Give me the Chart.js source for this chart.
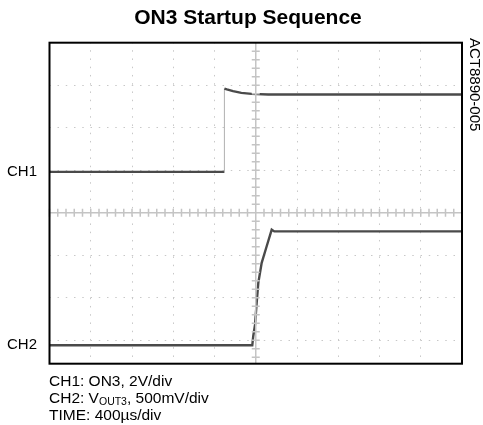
<!DOCTYPE html>
<html>
<head>
<meta charset="utf-8">
<script src="https://cdn.jsdelivr.net/npm/chart.js@4.4.0/dist/chart.umd.min.js"></script>
<style>
    html, body { margin: 0; padding: 0; background: #fff; }
    #wrap { position: relative; width: 483px; height: 425px; }
</style>
</head>
<body>
<div id="wrap"><canvas id="scopeChart" width="483" height="425"></canvas></div>
<script>
// Scope capture, values in screen divisions (time: 400us/div)
const ch1Time = [0, 4.24, 4.24, 4.3, 4.45, 4.65, 4.9, 5.3, 6.0, 10];
const ch1Div = [0.96, 0.96, 2.92, 2.90, 2.86, 2.82, 2.795, 2.78, 2.78, 2.78];

const ch2Time = [0, 4.916, 4.94, 4.982, 5.02, 5.062, 5.144, 5.265, 5.387, 5.45, 10];
const ch2Div = [-3.12, -3.12, -2.90, -2.64, -2.15, -1.65, -1.18, -0.79, -0.40, -0.44, -0.44];

const channelLabels = ["CH1", "CH2"];
const channelLevels = [0.96, -3.12];
const xDivisions = [0, 1, 2, 3, 4, 5, 6, 7, 8, 9, 10];
const yDivisions = [-3, -2, -1, 0, 1, 2, 3, 4];

const FONT = "Arial, 'Liberation Sans', sans-serif";

function toPoints(xs, ys) {
    return xs.map((x, i) => ({ x: x, y: ys[i] }));
}

// Draws frame, center graticule and all the text around the plot
const scopeDecor = {
    id: "scopeDecor",
    afterDatasetsDraw(chart) {
        const ctx = chart.ctx;
        const area = chart.chartArea;
        const xs = chart.scales.x;
        const ys = chart.scales.y;
        const cx = xs.getPixelForValue(5);
        const cy = ys.getPixelForValue(0);

        ctx.save();
        // center cross with minor ticks
        ctx.strokeStyle = "#c4c4c4";
        ctx.lineWidth = 1.5;
        ctx.beginPath();
        ctx.moveTo(area.left, cy);
        ctx.lineTo(area.right, cy);
        ctx.moveTo(cx, area.top);
        ctx.lineTo(cx, area.bottom);
        for (let v = 0; v <= 10; v += 0.2) {
            const px = xs.getPixelForValue(v);
            ctx.moveTo(px, cy - 4);
            ctx.lineTo(px, cy + 4);
        }
        for (let v = -3.6; v <= 4; v += 0.2) {
            const py = ys.getPixelForValue(v);
            if (py < area.top || py > area.bottom) continue;
            ctx.moveTo(cx - 4, py);
            ctx.lineTo(cx + 4, py);
        }
        ctx.stroke();
        ctx.restore();
    },
    afterDraw(chart) {
        const ctx = chart.ctx;
        const area = chart.chartArea;
        const ys = chart.scales.y;

        ctx.save();
        // frame
        ctx.strokeStyle = "#000";
        ctx.lineWidth = 2;
        ctx.strokeRect(area.left, area.top, area.right - area.left, area.bottom - area.top);

        // title
        ctx.fillStyle = "#000";
        ctx.textAlign = "center";
        ctx.textBaseline = "middle";
        ctx.font = "bold 21px " + FONT;
        ctx.fillText("ON3 Startup Sequence", 248, 18);

        // channel markers
        ctx.font = "15px " + FONT;
        ctx.textAlign = "left";
        channelLabels.forEach((lab, i) => {
            ctx.fillText(lab, 7, ys.getPixelForValue(channelLevels[i]));
        });

        // figure id, rotated
        ctx.save();
        ctx.translate(467, 38);
        ctx.rotate(Math.PI / 2);
        ctx.textAlign = "left";
        ctx.textBaseline = "bottom";
        ctx.font = "15px " + FONT;
        ctx.fillText("ACT8890-005", 0, 0);
        ctx.restore();

        // settings text
        ctx.textAlign = "left";
        ctx.textBaseline = "middle";
        ctx.font = "15.5px " + FONT;
        ctx.fillText("CH1: ON3, 2V/div", 49, 382);
        let x = 49;
        ctx.fillText("CH2: V", x, 399);
        x += ctx.measureText("CH2: V").width;
        ctx.font = "10.5px " + FONT;
        ctx.fillText("OUT3", x, 402);
        x += ctx.measureText("OUT3").width;
        ctx.font = "15.5px " + FONT;
        ctx.fillText(", 500mV/div", x, 399);
        ctx.fillText("TIME: 400\u00b5s/div", 49, 416);
        ctx.restore();
    }
};

function renderChart() {
    const ctx = document.getElementById("scopeChart").getContext("2d");
    new Chart(ctx, {
        type: "line",
        data: {
            datasets: [
                {
                    label: "CH1",
                    data: toPoints(ch1Time, ch1Div),
                    borderColor: "#4a4a4a",
                    borderWidth: 2.4,
                    pointRadius: 0,
                    tension: 0,
                    segment: {
                        borderColor: c => (c.p0DataIndex === 1 ? "#b0b0b0" : undefined),
                        borderWidth: c => (c.p0DataIndex === 1 ? 1 : undefined),
                    },
                },
                {
                    label: "CH2",
                    data: toPoints(ch2Time, ch2Div),
                    borderColor: "#4a4a4a",
                    borderWidth: 2.4,
                    pointRadius: 0,
                    tension: 0,
                },
            ],
        },
        options: {
            responsive: false,
            animation: false,
            layout: {
                padding: { left: 49.5, top: 42.7, right: 21, bottom: 61.3 },
            },
            plugins: {
                legend: { display: false },
                title: { display: false },
                tooltip: { enabled: false },
            },
            scales: {
                x: {
                    type: "linear",
                    min: 0,
                    max: 10,
                    afterBuildTicks: s => { s.ticks = xDivisions.map(v => ({ value: v })); },
                    ticks: { display: false },
                    border: { display: false, dash: [1.5, 6.75], dashOffset: 0.75 },
                    grid: { color: "#c8c8c8", lineWidth: 1, drawTicks: false },
                },
                y: {
                    type: "linear",
                    min: -3.553,
                    max: 4,
                    afterBuildTicks: s => { s.ticks = yDivisions.map(v => ({ value: v })); },
                    ticks: { display: false },
                    border: { display: false, dash: [1.5, 6.75], dashOffset: 0.75 },
                    grid: { color: "#c8c8c8", lineWidth: 1, drawTicks: false },
                },
            },
        },
        plugins: [scopeDecor],
    });
}

document.addEventListener("DOMContentLoaded", renderChart);
</script>
</body>
</html>
